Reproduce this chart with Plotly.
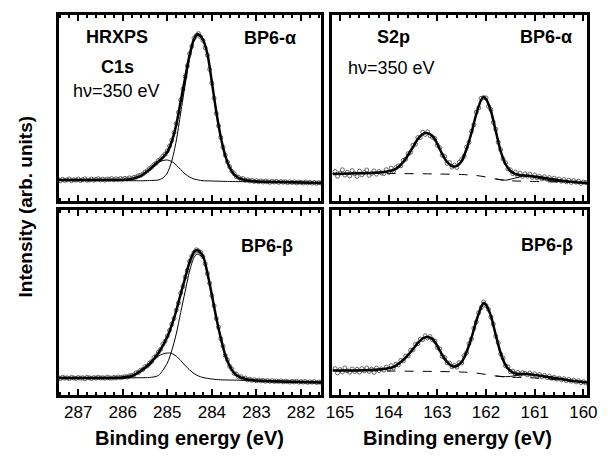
import numpy as np
import plotly.graph_objects as go

# ---------------- C1s data (binding energy grid, eV) ----------------
c1s_energy = np.round(np.arange(287.45, 281.549, -0.05), 2)

c1s_a_data = [
    21.5, 20.3, 21.8, 20.6, 21.2, 22.0, 20.4, 21.3, 20.8, 21.9,
    20.5, 21.4, 22.1, 20.7, 21.0, 21.8, 20.9, 21.6, 22.3, 21.1,
    21.9, 20.8, 22.0, 21.5, 22.4, 21.3, 22.2, 21.6, 22.5, 21.8,
    22.6, 22.0, 23.1, 22.4, 23.6, 23.9, 25.2, 25.6, 27.0, 28.9,
    30.2, 32.4, 33.9, 36.3, 37.8, 40.4, 42.0, 44.6, 46.9, 50.1,
    55.0, 60.8, 68.5, 77.4, 88.6, 101.2, 112.0, 124.5, 135.3, 147.2,
    154.6, 162.8, 165.3, 167.4, 164.0, 160.5, 153.2, 145.8, 131.6, 117.9,
    102.8, 87.6, 75.2, 63.5, 53.8, 45.9, 39.0, 34.2, 29.6, 27.3,
    24.4, 23.6, 22.0, 22.5, 20.8, 21.2, 20.0, 20.7, 19.5, 20.2,
    19.3, 20.1, 19.0, 19.9, 19.2, 18.7, 19.8, 19.0, 19.6, 18.6,
    19.5, 18.8, 19.3, 18.4, 19.2, 18.5, 19.1, 18.2, 18.9, 18.6,
    18.0, 18.8, 18.1, 18.6, 17.9, 18.5, 17.8, 18.4, 18.0,
]
c1s_b_data = [
    17.4, 16.5, 17.8, 16.9, 17.2, 16.4, 17.6, 17.0, 16.6, 17.5,
    16.8, 17.3, 16.2, 17.7, 17.1, 16.6, 17.4, 16.9, 17.8, 17.0,
    17.3, 16.7, 17.9, 17.2, 16.8, 17.6, 17.1, 18.0, 17.4, 17.8,
    18.4, 18.0, 19.2, 19.5, 20.1, 22.2, 22.6, 24.8, 25.5, 28.3,
    29.0, 31.8, 33.5, 37.3, 39.0, 42.9, 45.6, 50.8, 53.7, 58.9,
    64.6, 70.9, 76.5, 84.8, 92.0, 101.9, 108.6, 117.8, 124.6, 133.7,
    138.6, 142.5, 145.2, 144.1, 142.6, 138.3, 131.2, 121.4, 111.7, 99.3,
    89.2, 76.4, 67.8, 56.3, 49.1, 39.5, 35.2, 28.6, 26.0, 21.7,
    20.8, 18.1, 18.3, 16.6, 16.9, 15.2, 15.8, 14.7, 15.3, 14.2,
    14.9, 14.1, 14.6, 13.8, 14.4, 13.7, 14.3, 13.5, 14.0, 13.6,
    14.1, 13.2, 13.8, 13.4, 12.9, 13.6, 13.1, 13.7, 12.8, 13.3,
    12.9, 13.5, 12.6, 13.2, 12.8, 13.4, 12.5, 13.0, 12.7,
]

# C1s fits
c1s_a_env_e = [287.45, 287.0, 286.5, 286.0, 285.8, 285.6, 285.4, 285.3, 285.2, 285.1,
               285.0, 284.9, 284.8, 284.7, 284.6, 284.5, 284.4, 284.32, 284.2, 284.1,
               284.0, 283.9, 283.8, 283.7, 283.6, 283.5, 283.4, 283.2, 283.0, 282.5,
               282.0, 281.55]
c1s_a_env = [21, 21, 21, 21, 22, 25, 31.5, 35.5, 39.5, 43.5,
             49, 59.5, 76, 99.5, 123, 146, 162, 167, 161.3, 147,
             119, 89, 64, 45.5, 33.5, 26.5, 23, 20.5, 19.5, 19,
             18.5, 18]
c1s_a_main_e = [287.45, 286.4, 285.8, 285.6, 285.4, 285.2, 285.1, 285.0, 284.9, 284.8,
                284.7, 284.6, 284.5, 284.4, 284.32, 284.2, 284.1, 284.0, 283.9, 283.8,
                283.7, 283.6, 283.5, 283.4, 283.2, 283.0, 282.5, 282.0, 281.55]
c1s_a_main = [20.5, 20.5, 20.3, 20.2, 20.5, 21, 23, 28, 40, 60,
              88, 116, 142, 160, 166, 161, 147, 119, 89, 64,
              45.5, 33.5, 26.5, 23, 20.5, 19.5, 19, 18.5, 18]
c1s_a_sh_e = [287.45, 286.4, 286.0, 285.8, 285.6, 285.4, 285.3, 285.2, 285.1, 285.0,
              284.9, 284.8, 284.7, 284.6, 284.5, 284.4, 284.3, 284.2, 284.0, 283.6,
              283.0, 282.0, 281.55]
c1s_a_sh = [20.5, 20.5, 21, 22, 25, 31, 35, 38.5, 40.5, 41,
            39.5, 36, 31.5, 27, 24, 22, 21, 20.3, 20, 19.5,
            19.2, 18.6, 18.2]

c1s_b_env_e = [287.45, 287.0, 286.5, 286.0, 285.8, 285.6, 285.4, 285.2, 285.0, 284.9,
               284.8, 284.7, 284.6, 284.5, 284.4, 284.33, 284.2, 284.1, 284.0, 283.9,
               283.8, 283.7, 283.6, 283.5, 283.4, 283.2, 283.0, 282.5, 282.0, 281.55]
c1s_b_env = [17, 17, 17, 17.5, 19, 24, 31, 42, 58, 70,
             84, 101, 117, 133, 143, 145, 139, 122, 100, 77,
             57, 40, 29, 22, 18.5, 15.5, 14.5, 13.5, 13, 12.5]
c1s_b_main_e = [287.45, 286.0, 285.6, 285.4, 285.2, 285.0, 284.9, 284.8, 284.7, 284.6,
                284.5, 284.4, 284.33, 284.2, 284.1, 284.0, 283.9, 283.8, 283.7, 283.6,
                283.5, 283.4, 283.2, 283.0, 282.5, 282.0, 281.55]
c1s_b_main = [16.8, 17, 17.3, 17.5, 19.5, 32, 44.5, 61, 82.5, 103.5,
              124, 137.5, 141, 137, 121, 99, 77, 57, 40, 29,
              22, 18.5, 15.5, 14.5, 13.5, 13, 12.5]
c1s_b_sh_e = [287.45, 286.4, 286.0, 285.8, 285.6, 285.4, 285.3, 285.2, 285.1, 285.0,
              284.95, 284.9, 284.8, 284.7, 284.6, 284.5, 284.4, 284.3, 284.2, 284.0,
              283.8, 283.4, 283.0, 282.0, 281.55]
c1s_b_sh = [16.8, 16.5, 17.3, 18.8, 23, 30, 35, 39, 41, 42,
            42, 41.5, 39, 34.5, 29.5, 25, 21.5, 19, 17.5, 16,
            15.2, 14.8, 14.3, 13.2, 12.7]

# ---------------- S2p data ----------------
s2p_energy = np.round(np.arange(165.10, 159.949, -0.05), 2)

s2p_a_data = [
    29.5, 24.8, 27.9, 31.2, 26.0, 28.8, 25.1, 30.4, 27.3, 24.6,
    29.8, 26.2, 28.5, 31.0, 25.7, 27.6, 30.1, 26.9, 29.4, 28.0,
    27.4, 31.3, 28.6, 32.9, 29.8, 33.4, 35.1, 35.2, 40.6, 41.8,
    47.3, 48.6, 55.8, 56.9, 63.4, 63.5, 68.8, 66.6, 69.2, 65.3,
    63.7, 62.4, 55.6, 53.3, 45.8, 44.5, 37.6, 38.4, 33.9, 35.8,
    33.6, 38.9, 41.7, 44.8, 53.9, 58.6, 69.7, 76.2, 88.8, 93.1,
    102.6, 103.4, 103.1, 94.7, 91.5, 78.6, 71.8, 58.7, 51.4, 42.2,
    38.3, 32.1, 31.2, 27.4, 28.9, 25.3, 27.8, 24.6, 27.2, 24.9,
    26.8, 23.7, 25.9, 23.2, 24.6, 22.1, 24.3, 21.8, 23.4, 20.9,
    22.8, 20.6, 21.9, 19.8, 21.4, 19.2, 20.8, 18.6, 20.3, 18.9,
    19.8, 17.6, 19.1, 18.4,
]
s2p_b_data = [
    26.3, 22.1, 25.4, 23.0, 27.1, 24.2, 22.8, 26.0, 23.5, 25.7,
    22.9, 26.4, 24.1, 27.0, 23.6, 25.8, 22.7, 26.9, 24.4, 26.1,
    24.8, 27.9, 25.6, 29.3, 27.1, 30.8, 30.2, 34.6, 34.1, 38.9,
    39.2, 44.8, 45.1, 50.6, 51.3, 55.9, 55.4, 59.2, 57.1, 58.4,
    55.3, 53.8, 47.6, 45.9, 38.7, 37.4, 32.1, 31.9, 28.2, 29.6,
    27.9, 32.4, 32.0, 39.3, 42.1, 51.4, 56.2, 66.8, 73.1, 82.3,
    87.4, 93.0, 89.5, 85.6, 77.8, 70.9, 58.7, 52.2, 40.9, 37.1,
    29.2, 28.1, 23.3, 23.9, 21.0, 22.6, 20.4, 22.3, 21.7, 20.2,
    21.9, 19.6, 21.2, 18.8, 20.4, 18.2, 19.6, 17.5, 18.9, 16.8,
    17.8, 15.9, 16.9, 15.2, 16.3, 14.4, 15.6, 13.8, 14.9, 13.1,
    14.2, 12.4, 13.3, 12.0,
]

s2p_env_e = [165.15, 164.8, 164.4, 164.1, 163.9, 163.8, 163.7, 163.6, 163.5, 163.4,
             163.3, 163.22, 163.1, 163.0, 162.9, 162.8, 162.7, 162.65, 162.6, 162.5,
             162.4, 162.3, 162.2, 162.1, 162.05, 162.0, 161.9, 161.8, 161.7, 161.6,
             161.5, 161.4, 161.3, 161.2, 161.0, 160.8, 160.6, 160.4, 160.2, 159.92]
s2p_a_env = [27, 27.5, 28, 29, 31, 34, 39, 46, 54, 62,
             67, 68, 65, 57, 47, 39, 35, 34.5, 35, 40,
             52, 68, 87, 101, 104, 102, 90, 70, 50, 37,
             30, 27, 26, 25.5, 24.5, 23, 21.5, 20, 19, 18]
s2p_b_env = [24.5, 24.5, 25, 26, 28, 31, 35, 40, 46, 52,
             56.5, 58, 56, 49, 40, 33, 29, 28.5, 29, 33,
             43, 57, 74, 88, 92, 90, 79, 60, 42, 30,
             24, 21.5, 21, 21, 20, 18.5, 17, 15.5, 14, 12.5]
s2p_bg_e = [165.15, 164.0, 163.0, 162.5, 162.2, 162.0, 161.8, 161.6, 161.4, 161.0, 160.5, 159.92]
s2p_a_bg = [27.5, 27.5, 27, 26.5, 25.5, 24, 22, 20.5, 20, 19.5, 19, 18]
s2p_b_bg = [24.5, 24, 23.5, 23, 22, 20.5, 19, 18, 17.6, 17, 15, 12.5]
s2p_small_e = [161.8, 161.6, 161.5, 161.4, 161.3, 161.2, 161.1, 161.0, 160.9, 160.8, 160.6, 160.4]
s2p_a_small = [22.1, 20.8, 21.7, 23, 24.3, 24.9, 24.6, 23.5, 22.4, 21.3, 19.9, 19]
s2p_b_small = [19.1, 18.3, 18.6, 19.3, 20.0, 20.5, 20.7, 20.3, 19.6, 18.8, 17.3, 16]

c1s_ticks = [287, 286, 285, 284, 283, 282]
s2p_ticks = [165, 164, 163, 162, 161, 160]

FONT = "Liberation Sans, Arial, sans-serif"
W, H = 608, 456

fig = go.Figure()


def add_data(x, y, xa, ya):
    fig.add_trace(go.Scatter(x=x, y=y, mode="markers", xaxis=xa, yaxis=ya,
                             marker=dict(symbol="circle-open", size=4, color="#555",
                                         line=dict(width=0.9, color="#555")),
                             showlegend=False, hoverinfo="skip"))


def add_line(x, y, xa, ya, width, dash="solid"):
    fig.add_trace(go.Scatter(x=x, y=y, mode="lines", xaxis=xa, yaxis=ya,
                             line=dict(color="black", width=width, dash=dash,
                                       shape="spline", smoothing=0.8),
                             showlegend=False, hoverinfo="skip"))


# top-left C1s alpha
add_data(c1s_energy, c1s_a_data, "x", "y")
add_line(c1s_a_main_e, c1s_a_main, "x", "y", 1)
add_line(c1s_a_sh_e, c1s_a_sh, "x", "y", 1)
add_line(c1s_a_env_e, c1s_a_env, "x", "y", 2.5)
# top-right S2p alpha
add_data(s2p_energy, s2p_a_data, "x2", "y2")
add_line(s2p_bg_e, s2p_a_bg, "x2", "y2", 1, "dash")
add_line(s2p_small_e, s2p_a_small, "x2", "y2", 1)
add_line(s2p_env_e, s2p_a_env, "x2", "y2", 2.5)
# bottom-left C1s beta
add_data(c1s_energy, c1s_b_data, "x3", "y3")
add_line(c1s_b_main_e, c1s_b_main, "x3", "y3", 1)
add_line(c1s_b_sh_e, c1s_b_sh, "x3", "y3", 1)
add_line(c1s_b_env_e, c1s_b_env, "x3", "y3", 2.5)
# bottom-right S2p beta
add_data(s2p_energy, s2p_b_data, "x4", "y4")
add_line(s2p_bg_e, s2p_b_bg, "x4", "y4", 1, "dash")
add_line(s2p_small_e, s2p_b_small, "x4", "y4", 1)
add_line(s2p_env_e, s2p_b_env, "x4", "y4", 2.5)


def xax(domain, rng, ticks, anchor, labels):
    return dict(domain=domain, range=rng, tickmode="array", tickvals=ticks,
                ticktext=[str(t) for t in ticks], anchor=anchor,
                showticklabels=labels, showline=True, linewidth=2.5, linecolor="black",
                mirror="allticks", ticks="inside", ticklen=6, tickwidth=2, tickcolor="black",
                showgrid=False, zeroline=False,
                minor=dict(dtick=0.2, tick0=0, ticks="inside", ticklen=3, tickwidth=1.5,
                           tickcolor="black", showgrid=False),
                tickfont=dict(family=FONT, size=17, color="black"))


def yax(domain, rng, anchor):
    return dict(domain=domain, range=rng, anchor=anchor, showticklabels=False,
                showline=True, linewidth=2.5, linecolor="black", mirror=True,
                ticks="", showgrid=False, zeroline=False)


LX = [54 / W, 324 / W]
RX = [335 / W, 597 / W]
TY = [1 - 201 / H, 1 - 15 / H]
BY = [1 - 395 / H, 1 - 210 / H]

fig.update_layout(
    width=W, height=H, margin=dict(l=0, r=0, t=0, b=0),
    paper_bgcolor="white", plot_bgcolor="white",
    xaxis=xax(LX, [287.44, 281.54], c1s_ticks, "y", False),
    xaxis2=xax(RX, [165.16, 159.92], s2p_ticks, "y2", False),
    xaxis3=xax(LX, [287.44, 281.54], c1s_ticks, "y3", True),
    xaxis4=xax(RX, [165.16, 159.92], s2p_ticks, "y4", True),
    yaxis=yax(TY, [0, 186], "x"),
    yaxis2=yax(TY, [0, 186], "x2"),
    yaxis3=yax(BY, [0, 185], "x3"),
    yaxis4=yax(BY, [0, 185], "x4"),
)


def note(text, px, py, size=18, angle=0):
    fig.add_annotation(text=text, x=px / W, y=1 - py / H, xref="paper", yref="paper",
                       showarrow=False, xanchor="center", yanchor="middle",
                       textangle=angle, font=dict(family=FONT, size=size, color="black"))


note("<b>HRXPS</b>", 114, 37)
note("<b>C1s</b>", 114, 67)
note("hν=350 eV", 113, 91)
note("<b>BP6-α</b>", 271, 38)
note("<b>S2p</b>", 398, 37)
note("hν=350 eV", 396, 68)
note("<b>BP6-α</b>", 555, 37)
note("<b>BP6-β</b>", 268, 246)
note("<b>BP6-β</b>", 556, 245)
note("<b>Binding energy (eV)</b>", 188, 438, size=20)
note("<b>Binding energy (eV)</b>", 464, 438, size=20)
note("<b>Intensity (arb. units)</b>", 19, 207, size=19, angle=-90)

fig.write_html("out.html")
